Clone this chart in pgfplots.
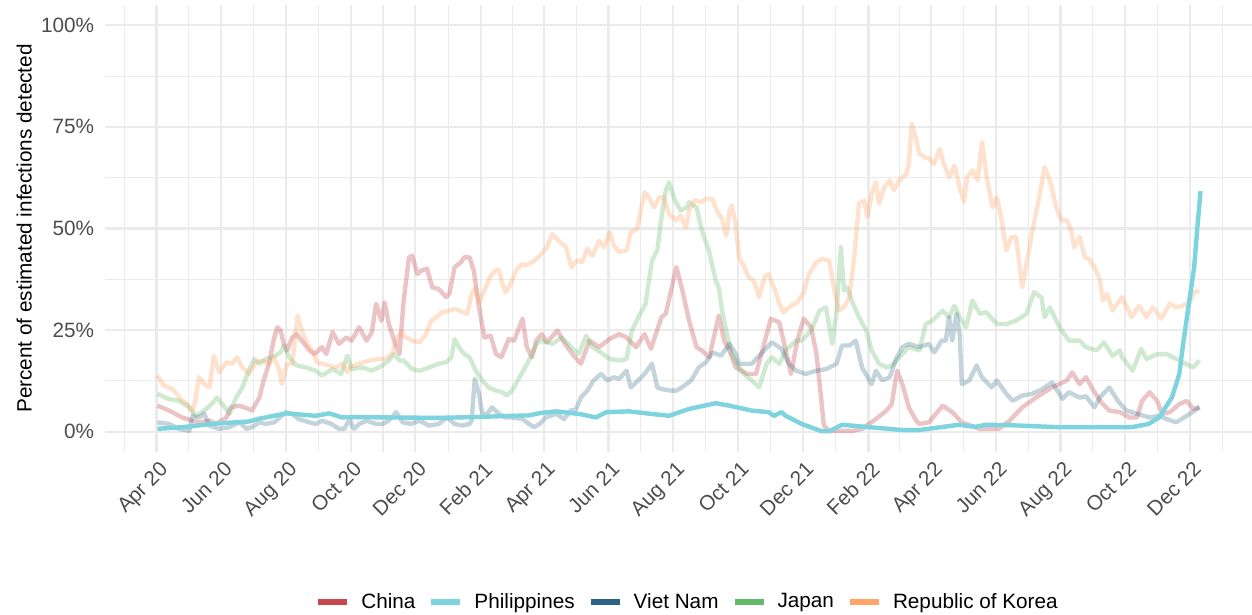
\documentclass[border=0pt]{standalone}
\usepackage{fontspec}
\setmainfont{Liberation Sans}
\usepackage{pgfplots}
\pgfplotsset{compat=1.18}
\definecolor{cChina}{HTML}{C8474F}
\definecolor{cPhil}{HTML}{7DD3DE}
\definecolor{cViet}{HTML}{2C6485}
\definecolor{cJapan}{HTML}{64BA6B}
\definecolor{cKorea}{HTML}{FFA568}
\definecolor{gridc}{HTML}{EBEBEB}
\definecolor{tickc}{HTML}{4D4D4D}
\begin{document}
\begin{tikzpicture}[font=\fontsize{10.4}{12.5}\selectfont]
\path[use as bounding box] (0,0) rectangle (626bp,307.5bp);
\begin{axis}[
  at={(52.5bp,81.5bp)}, anchor=south west,
  scale only axis, width=573.5bp, height=223.5bp,
  xmin=-48.5, xmax=1032.5, ymin=-5, ymax=105,
  axis line style={draw=none},
  major tick length=0pt, minor tick length=0pt,
  xtick={0,61,122,183,244,306,365,426,487,548,609,671,730,791,852,913,974},
  xticklabels={Apr 20,Jun 20,Aug 20,Oct 20,Dec 20,Feb 21,Apr 21,Jun 21,Aug 21,Oct 21,Dec 21,Feb 22,Apr 22,Jun 22,Aug 22,Oct 22,Dec 22},
  minor xtick={-30.5,30.5,91.5,152.5,213.5,275,335.5,395.5,456.5,517.5,578.5,640,700.5,760.5,821.5,882.5,943.5,1004.5},
  ytick={0,25,50,75,100}, yticklabels={0\%,25\%,50\%,75\%,100\%},
  minor ytick={12.5,37.5,62.5,87.5},
  grid=both,
  major grid style={line width=1.1bp, color=gridc},
  minor grid style={line width=0.55bp, color=gridc},
  /pgf/number format/assume math mode=true,
  tick label style={font=\fontsize{10.4}{12.5}\selectfont, text=tickc},
  xticklabel style={xshift=1bp, yshift=-4bp, rotate=45, anchor=north east, inner sep=0pt},
  yticklabel style={anchor=east, inner sep=0pt, xshift=-5.3bp},
  legend columns=5,
  legend image code/.code={\draw[#1, line width=3bp] (0bp,0bp) -- (14.5bp,0bp);},
  legend style={at={(0.507,-0.3356)}, anchor=center, draw=none, fill=none,
    font=\fontsize{10.4}{12.5}\selectfont, inner sep=0pt,
    nodes={inner sep=0pt},
    /tikz/every odd column/.style={column sep=5.5bp},
    /tikz/every even column/.style={column sep=6.5bp}},
  every axis plot/.append style={line width=2.2bp, line join=round},
]
\addlegendimage{color=cChina}\addlegendentry{China}
\addlegendimage{color=cPhil}\addlegendentry{Philippines}
\addlegendimage{color=cViet}\addlegendentry{Viet Nam}
\addlegendimage{color=cJapan}\addlegendentry{Japan}
\addlegendimage{color=cKorea}\addlegendentry{Republic of Korea}

% China
\addplot[color=cChina, draw opacity=0.32, forget plot] coordinates {
(1,6.4)(12,5.2)(24,3.5)(34,2.7)(40,2.3)(50,2.7)(56,1.9)(66,3.5)(70,6.0)(78,6.4)(87,5.6)(90,5.2)(97,8.4)(101,12.6)(106,16.7)(111,23.2)(114,25.7)(117,24.9)(120,21.6)(123,20.0)(128,23.2)(132,24.0)(137,22.4)(144,20.0)(149,19.1)(156,20.8)(160,19.1)(166,24.5)(172,21.6)(179,23.2)(184,22.4)(191,25.7)(198,22.4)(203,24.5)(207,31.5)(212,27.3)(215,31.8)(219,26.5)(224,22.4)(229,19.1)(233,32.3)(238,42.9)(241,43.3)(246,38.8)(250,39.7)(255,40.1)(260,35.5)(266,35.1)(273,33.1)(276,33.9)(281,40.5)(287,41.7)(290,42.9)(295,42.9)(299,39.7)(304,30.6)(309,23.2)(315,23.6)(320,19.1)(325,18.3)(332,22.8)(337,22.4)(345,27.8)(349,20.8)(354,18.3)(358,22.4)(363,24.0)(368,22.0)(378,24.9)(384,22.0)(392,19.1)(400,16.7)(408,22.4)(417,20.8)(427,22.8)(436,24.0)(443,23.2)(452,20.8)(460,24.0)(466,20.4)(476,28.2)(480,29.0)(490,40.5)(495,35.5)(502,27.3)(509,20.8)(514,20.0)(521,18.3)(530,28.6)(535,22.4)(540,20.0)(546,15.8)(557,14.2)(565,14.2)(571,20.0)(579,27.8)(587,26.9)(593,20.0)(598,14.2)(604,22.4)(610,27.8)(617,25.7)(622,19.1)(626,9.3)(629,1.5)(634,0.2)(656,0.2)(665,0.7)(678,3.1)(688,5.2)(693,6.8)(698,15.0)(703,11.7)(709,6.0)(716,2.7)(719,1.9)(728,2.3)(741,6.4)(750,4.8)(759,2.3)(776,0.7)(794,0.7)(804,2.7)(816,6.0)(829,8.4)(844,10.9)(858,12.6)(863,14.6)(870,11.7)(876,13.4)(884,9.7)(891,7.0)(898,5.2)(908,4.8)(917,3.5)(924,3.5)(929,7.6)(936,9.7)(943,7.6)(948,4.4)(955,4.8)(964,6.8)(971,7.6)(977,5.6)(983,6.0)
};
% Japan
\addplot[color=cJapan, draw opacity=0.3, forget plot] coordinates {
(1,9.3)(12,8.0)(21,7.6)(31,6.0)(37,3.9)(45,5.2)(52,6.8)(57,8.4)(62,6.8)(69,4.4)(75,8.4)(81,10.9)(87,15.0)(92,17.9)(97,16.7)(103,17.9)(109,18.3)(117,19.5)(120,21.2)(125,18.3)(132,16.3)(141,15.8)(150,15.0)(156,13.8)(166,15.4)(174,14.2)(180,18.7)(184,15.4)(194,15.8)(203,15.0)(213,16.3)(219,17.5)(224,19.1)(229,17.5)(233,17.5)(241,15.4)(248,15.0)(257,15.8)(266,16.7)(273,17.1)(278,18.3)(281,22.8)(285,20.8)(290,19.1)(295,18.3)(301,15.0)(307,12.6)(313,10.9)(320,10.1)(326,9.7)(330,8.9)(335,10.1)(344,14.2)(351,17.5)(358,21.6)(363,22.4)(373,21.6)(382,23.2)(391,20.8)(398,19.1)(405,23.6)(411,20.8)(419,19.5)(427,17.9)(436,17.5)(443,17.9)(448,24.9)(455,28.6)(461,31.5)(467,42.1)(472,44.6)(476,52.8)(480,59.4)(483,61.4)(488,57.3)(494,54.4)(500,55.2)(502,56.5)(509,55.2)(514,49.5)(521,44.2)(527,37.2)(530,35.5)(533,29.8)(537,24.9)(542,19.1)(552,14.6)(561,12.6)(568,10.9)(575,16.7)(580,18.3)(587,16.7)(593,20.0)(603,22.4)(608,22.4)(617,24.9)(625,29.8)(631,30.6)(637,21.6)(641,29.8)(645,45.4)(648,34.7)(651,35.5)(656,31.8)(662,28.2)(669,24.9)(674,20.0)(681,16.7)(688,15.8)(693,16.3)(703,19.1)(709,20.8)(719,20.0)(725,26.5)(731,27.3)(741,29.8)(747,28.2)(752,31.0)(757,28.2)(763,25.7)(769,32.3)(776,29.0)(782,29.4)(792,26.5)(801,26.5)(810,27.3)(820,29.0)(827,34.3)(834,33.1)(837,28.2)(842,30.6)(851,25.7)(860,22.4)(870,22.4)(876,20.8)(886,20.0)(889,20.8)(893,22.0)(901,18.7)(908,20.0)(910,18.3)(920,15.0)(928,20.4)(933,17.9)(943,19.1)(952,19.1)(964,17.5)(977,15.8)(983,17.5)
};
% Viet Nam
\addplot[color=cViet, draw opacity=0.28, forget plot] coordinates {
(1,2.3)(12,1.9)(21,0.7)(31,0.2)(34,3.9)(40,3.5)(45,4.4)(50,1.5)(59,0.7)(69,1.1)(78,2.3)(85,0.7)(90,1.1)(97,2.3)(103,1.9)(111,2.3)(118,3.9)(122,4.8)(128,4.4)(134,3.1)(144,2.3)(150,1.9)(156,2.7)(165,1.9)(172,0.7)(177,0.7)(182,3.1)(186,0.7)(191,1.9)(198,2.7)(207,1.9)(213,1.9)(219,2.7)(226,4.8)(232,2.3)(240,1.9)(248,2.7)(257,1.5)(266,1.9)(274,3.5)(281,1.9)(288,1.5)(295,1.9)(297,2.7)(300,13.0)(304,9.3)(307,4.4)(312,4.4)(316,6.0)(323,4.4)(329,3.5)(335,3.5)(345,3.1)(351,1.9)(356,1.1)(361,1.9)(367,3.5)(377,4.4)(384,3.1)(391,5.3)(395,5.3)(400,8.4)(406,10.1)(412,12.6)(419,14.2)(425,12.6)(431,13.4)(436,13.0)(443,15.0)(447,10.9)(452,12.1)(460,14.2)(467,16.7)(472,10.9)(476,10.5)(485,10.1)(490,10.1)(495,10.9)(504,12.6)(511,15.8)(518,17.1)(524,19.5)(532,18.7)(540,21.6)(546,19.1)(549,16.7)(561,16.7)(571,19.5)(580,22.0)(589,20.4)(596,16.7)(603,15.0)(612,14.2)(622,15.0)(631,15.4)(641,16.7)(646,21.2)(653,21.2)(659,22.4)(665,15.8)(674,11.7)(678,15.0)(684,12.6)(691,13.4)(697,17.9)(703,20.8)(709,21.6)(719,20.8)(728,21.6)(733,19.5)(740,22.4)(744,22.4)(747,28.2)(750,22.4)(754,29.0)(757,24.0)(759,11.7)(766,12.6)(773,16.3)(778,13.4)(787,10.9)(792,12.6)(801,9.3)(807,7.6)(816,8.9)(825,9.3)(835,10.5)(844,12.1)(854,8.1)(860,9.7)(870,8.4)(876,8.7)(884,6.0)(889,8.4)(898,10.9)(906,7.6)(914,5.2)(924,4.4)(936,3.5)(945,3.9)(952,3.1)(961,2.3)(971,3.9)(983,6.0)
};
% Republic of Korea
\addplot[color=cKorea, draw opacity=0.32, forget plot] coordinates {
(1,13.8)(7,11.3)(15,10.5)(23,8.0)(29,6.8)(34,4.8)(37,8.4)(40,13.4)(45,11.7)(50,10.9)(54,18.7)(59,14.6)(66,17.1)(71,16.7)(76,18.3)(81,15.8)(87,14.2)(94,17.1)(100,17.5)(106,16.7)(111,18.3)(116,15.0)(118,11.7)(123,16.7)(128,16.7)(133,28.6)(137,24.9)(142,21.6)(147,20.0)(151,17.1)(156,16.7)(163,16.3)(169,15.8)(175,16.7)(180,14.6)(182,15.8)(191,16.7)(200,17.5)(210,17.9)(216,17.9)(222,19.1)(227,23.2)(231,24.5)(235,23.2)(241,22.4)(248,22.0)(254,24.0)(259,27.3)(264,28.2)(269,29.4)(276,29.8)(282,30.2)(288,29.4)(293,29.0)(297,33.9)(301,35.5)(304,31.8)(309,34.7)(315,38.4)(320,39.7)(323,39.7)(326,36.4)(329,34.3)(334,36.4)(339,39.7)(344,41.3)(348,40.9)(354,41.7)(358,42.5)(363,43.8)(368,45.4)(373,48.7)(379,47.0)(386,45.4)(391,40.5)(396,42.1)(401,41.7)(406,45.0)(411,43.3)(417,47.0)(422,45.4)(427,49.1)(431,45.8)(436,44.2)(443,44.6)(447,49.1)(453,49.9)(460,58.9)(464,57.7)(469,55.2)(474,57.7)(478,57.7)(483,53.6)(490,52.0)(494,53.2)(499,50.3)(502,54.4)(507,56.9)(513,56.5)(518,57.3)(524,57.3)(528,54.4)(533,52.4)(537,48.3)(540,54.4)(542,55.7)(546,51.2)(549,42.9)(554,40.5)(558,38.0)(563,37.2)(568,33.1)(573,38.0)(577,38.8)(582,35.5)(587,31.5)(591,29.4)(598,31.0)(604,31.8)(610,34.3)(615,38.8)(622,41.7)(627,42.5)(634,42.1)(639,34.7)(643,29.8)(648,30.6)(653,33.1)(658,43.8)(662,56.1)(667,56.9)(670,52.8)(674,58.5)(678,61.4)(681,56.1)(686,60.2)(691,61.8)(695,59.4)(700,61.8)(707,63.5)(709,66.0)(712,75.8)(716,72.0)(719,68.4)(724,67.6)(728,67.2)(733,65.9)(738,69.6)(742,65.9)(747,62.6)(752,65.5)(757,60.2)(761,56.5)(764,62.6)(769,64.3)(774,61.8)(778,71.3)(783,61.8)(788,55.2)(792,57.7)(796,52.8)(801,44.6)(806,47.9)(810,47.9)(816,35.5)(821,42.9)(825,48.7)(832,57.7)(837,65.1)(842,61.8)(848,55.2)(853,52.0)(858,52.0)(862,49.5)(865,45.4)(870,47.9)(875,42.9)(879,42.5)(884,40.5)(889,37.5)(892,32.3)(896,33.9)(901,29.8)(910,33.1)(919,28.2)(926,31.0)(933,28.2)(939,30.6)(947,27.8)(955,31.5)(961,30.6)(967,31.0)(974,31.8)(978,34.3)(983,34.7)
};
% Philippines
\addplot[color=cPhil, forget plot] coordinates {
(1,0.7)(24,1.1)(56,2.0)(87,2.5)(97,3.2)(122,4.5)(128,4.4)(150,3.9)(163,4.5)(175,3.5)(182,3.6)(220,3.5)(266,3.4)(300,3.6)(335,3.9)(351,4.0)(362,4.6)(377,5.0)(400,4.3)(414,3.5)(424,4.8)(445,5.0)(483,3.9)(502,5.6)(527,7.0)(540,6.4)(561,5.2)(577,4.8)(582,3.9)(589,4.8)(593,3.9)(608,1.9)(627,0.1)(634,0.1)(646,1.7)(672,1.1)(703,0.4)(719,0.4)(756,1.7)(772,1.2)(782,1.7)(804,1.6)(851,1.1)(888,1.1)(919,1.1)(935,1.9)(945,3.5)(952,6.4)(957,8.4)(964,14.2)(968,22.4)(973,31.5)(978,40.5)(981,50.3)(984,59.2)
};
\end{axis}
\node[rotate=90, anchor=base] at (15.75bp,193.25bp) {Percent of estimated infections detected};
\end{tikzpicture}
\end{document}
